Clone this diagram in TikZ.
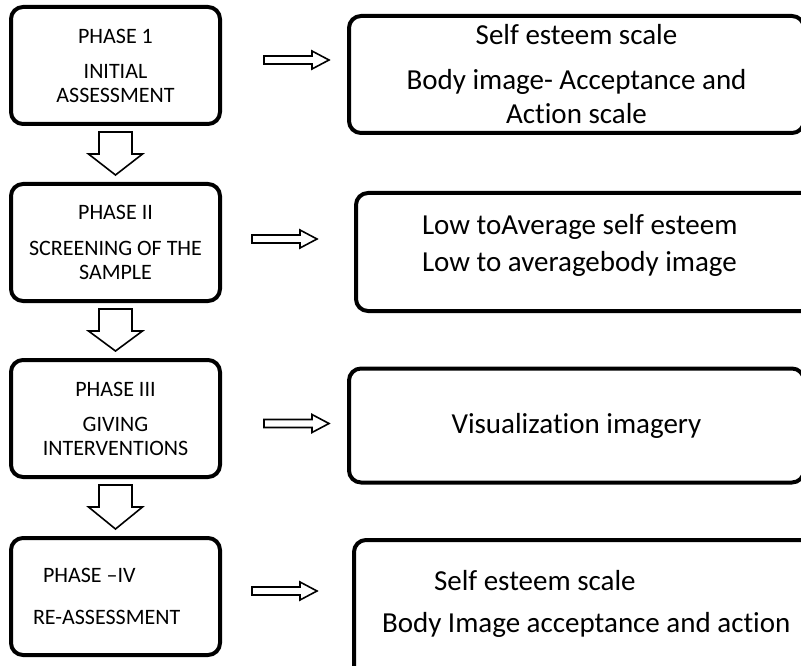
\documentclass[tikz,border=0pt]{standalone}
\usepackage{fontspec}
\setmainfont{Carlito}[Ligatures=NoCommon]
\usepackage{tikz}
\usetikzlibrary{positioning,calc}
\tikzset{
  phasebox/.style={draw,line width=4pt,rounded corners=12pt,inner sep=0pt,
    minimum width=209pt,minimum height=117pt,align=center,
    font=\fontsize{22}{24}\selectfont},
  toolbox/.style={draw,line width=4pt,rounded corners=12pt,inner sep=0pt,
    minimum width=455pt,minimum height=117pt,align=center,
    font=\fontsize{29}{34}\selectfont},
  blockarrow/.style={draw,line width=1.6pt,line join=miter,fill=white}
}

\begin{document}
\begin{tikzpicture}[x=1pt,y=-1pt]
  \useasboundingbox (0,0) rectangle (801,666);
  \clip (0,0) rectangle (801,666);
  % phases on the left
  \node[phasebox] (p1) at (115.5,65.5) {PHASE 1\\[11pt]INITIAL\\ASSESSMENT};
  \node[phasebox,below=56pt of p1] (p2) {PHASE II\\[12pt]SCREENING OF THE\\SAMPLE};
  \node[phasebox,below=55pt of p2] (p3) {PHASE III\\[11pt]GIVING\\INTERVENTIONS};
  \node[phasebox,below=57pt of p3,align=flush left,text width=165pt,inner xsep=22pt]
    (p4) {\hspace*{10pt}PHASE –IV\\[18pt]RE-ASSESSMENT};
  % what each phase uses
  \node[toolbox,right=125pt of p1,yshift=-9pt] (r1)
    {Self esteem scale\\[11pt]Body image- Acceptance and\\Action scale};
  \node[toolbox,right=132pt of p2,yshift=-9.5pt,minimum height=118pt,
    align=flush left,text width=346pt,inner xsep=66pt] (r2)
    {Low toAverage self esteem\\[3pt]Low to averagebody image\rule[-19pt]{0pt}{19pt}};
  \node[toolbox,right=125pt of p3,yshift=-7pt,minimum height=114pt] (r3)
    {Visualization imagery};
  \node[toolbox,right=130pt of p4,yshift=-30pt,minimum height=173pt,
    align=flush left,text width=434pt,inner xsep=28pt] (r4)
    {\hspace*{52pt}Self esteem scale\\[8pt]Body Image acceptance and action\rule[-50pt]{0pt}{50pt}};
  % hollow arrows
  \foreach \a/\b in {p1/p2,p2/p3,p3/p4}
    \draw[blockarrow] ($(\a.south)+(-16.5,6)$) -- ++(33,0) -- ++(0,22) -- ++(10.5,0)
      -- ($(\b.north)+(0,-7)$) -- ($(\a.south)+(-27,28)$) -- ++(10.5,0) -- cycle;
  \foreach \a/\dx/\dy in {p1/42/-5.5,p2/30/-3.5,p3/42/5,p4/30/-5.5}
    \draw[blockarrow] ($(\a.east)+(\dx,\dy-4)$) -- ++(48,0) -- ++(0,-5) -- ++(17,9)
      -- ++(-17,9) -- ++(0,-5) -- ++(-48,0) -- cycle;
\end{tikzpicture}
\end{document}
